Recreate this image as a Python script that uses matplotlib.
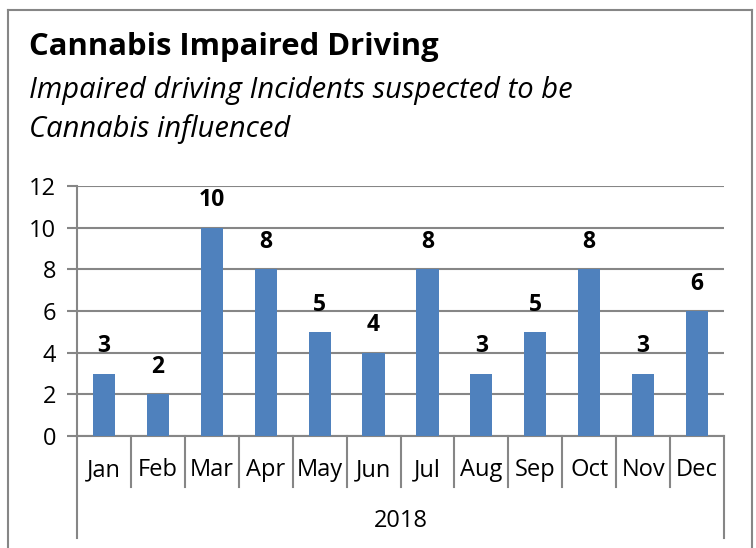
import matplotlib.pyplot as plt
from matplotlib.lines import Line2D

months = ["Jan", "Feb", "Mar", "Apr", "May", "Jun", "Jul", "Aug", "Sep", "Oct", "Nov", "Dec"]
incidents = [3, 2, 10, 8, 5, 4, 8, 3, 5, 8, 3, 6]
year_label = "2018"
y_ticks = [0, 2, 4, 6, 8, 10, 12]

title = "Cannabis Impaired Driving"
subtitle = "Impaired driving Incidents suspected to be\nCannabis influenced"

W, H = 756, 548
plt.rcParams["font.family"] = ["Open Sans", "DejaVu Sans"]
grey = "#868686"
bar_color = "#4F81BD"

fig = plt.figure(figsize=(W / 100, H / 100), dpi=100)


def fx(px):
    return px / W


def fy(py):
    return 1 - py / H


# chart border (bottom is cut off in the reference)
for xs, ys in [([8, 8], [548, 10]), ([8, 752], [10, 10]), ([752, 752], [10, 548])]:
    fig.add_artist(Line2D([fx(x) for x in xs], [fy(y) for y in ys], color=grey, lw=1.5))

fig.text(fx(29), fy(47), title, fontsize=22.3, fontweight="bold", va="center", ha="left")
fig.text(fx(29), fy(110), subtitle, fontsize=21, style="italic", va="center", ha="left",
         linespacing=1.35)

left, right, top, bottom = 77, 724, 186, 436
ax = fig.add_axes([fx(left), fy(bottom), fx(right) - fx(left), fy(top) - fy(bottom)])

x = list(range(len(months)))
ax.bar(x, incidents, width=0.41, color=bar_color, zorder=3)
for xi, v in zip(x, incidents):
    ax.annotate(str(v), (xi, v), xytext=(0, 11), textcoords="offset points",
                ha="center", va="bottom", fontsize=16.5, fontweight="bold")

ax.set_xlim(-0.5, len(months) - 0.5)
ax.set_ylim(0, 12)
ax.set_yticks(y_ticks)
ax.set_yticklabels([str(t) for t in y_ticks], fontsize=17)
ax.yaxis.grid(True, color=grey, lw=1.5, zorder=0)
ax.tick_params(axis="y", length=7, width=1.5, color=grey, pad=8)
ax.set_xticks([])
for side in ["top", "right"]:
    ax.spines[side].set_visible(False)
ax.spines["left"].set_color(grey)
ax.spines["left"].set_linewidth(1.5)
ax.spines["bottom"].set_color(grey)
ax.spines["bottom"].set_linewidth(1.5)

# two-level category axis: months, then the year spanning them all
n = len(months)
for i, m in enumerate(months):
    xf = fx(left) + (i + 0.5) / n * (fx(right) - fx(left))
    fig.text(xf, fy(470), m, fontsize=17, ha="center", va="center")
for i in range(n + 1):
    xf = fx(left) + i / n * (fx(right) - fx(left))
    end = 538 if i in (0, n) else 487
    fig.add_artist(Line2D([xf, xf], [fy(bottom), fy(end)], color=grey, lw=1.5))
fig.text((fx(left) + fx(right)) / 2, fy(521), year_label, fontsize=17, ha="center", va="center")

fig.savefig("out.png", dpi=100)
